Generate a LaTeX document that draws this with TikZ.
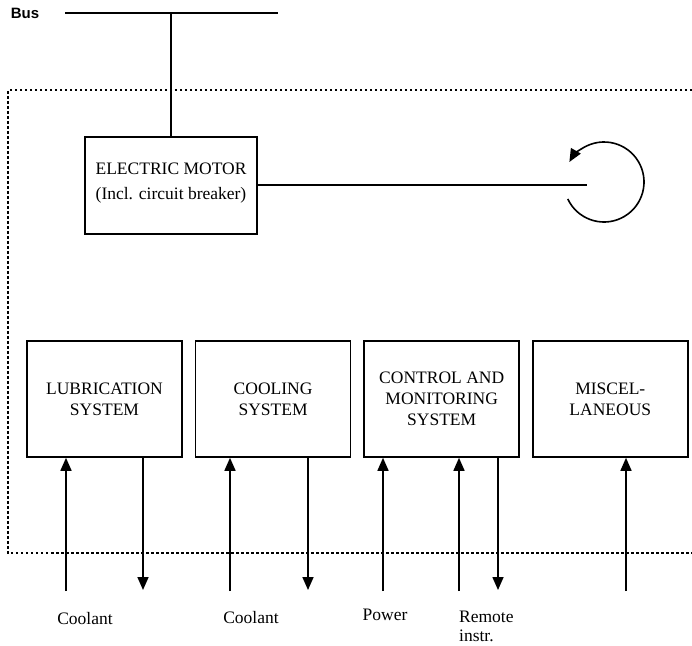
\documentclass[tikz,border=0pt]{standalone}
\usepackage{fontspec}
\setmainfont{Liberation Serif}
\usepackage{tikz}
\usetikzlibrary{arrows.meta,positioning,calc}

\begin{document}
\begin{tikzpicture}[
  x=1pt, y=-1pt,
  >={Triangle[length=13pt,width=11pt]},
  line width=1.6pt,
  lbl/.style={font=\fontsize{17.5}{21}\selectfont},
  unit/.style={draw, lbl, align=center, minimum width=155pt, minimum height=116pt, inner sep=0pt},
  busname/.style={font=\fontsize{15}{18}\selectfont\fontspec{Liberation Sans}\bfseries},
  frame/.style={line width=1.3pt, dash pattern=on 2.5pt off 2.5pt},
  every node/.style={lbl}
]
\useasboundingbox (0,0) rectangle (692,645);

% Bus
\node[busname] (bus) at (25,13) {Bus};
\coordinate (busl) at (65,13);
\coordinate (busr) at (278,13);
\draw (busl) -- (busr);

% Dotted boundary
\draw[frame] (692,90) -- (8,90) -- (8,553) -- (692,553);

% Motor node
\node[draw, align=center, minimum width=172pt, minimum height=97pt] (motor) at (171,185.5)
  {ELECTRIC MOTOR\\[4pt](Incl. circuit breaker)\\[-12pt]};
\draw (motor.north) -- (motor.north |- busl);

% Shaft and rotation
\coordinate (shaft) at (587,185);
\coordinate (rot) at (604,182);
\draw (motor.east |- shaft) -- (shaft);
\draw[->] ($(rot)+(155:40)$) arc[start angle=155, end angle=-150, radius=40];

% Auxiliary units
\node[unit] (lub) at (104.5,399) {LUBRICATION\\SYSTEM};
\node[unit, right=12pt of lub] (cool) {COOLING\\SYSTEM};
\node[unit, right=12pt of cool] (ctrl) {CONTROL AND\\MONITORING\\SYSTEM};
\node[unit, right=12pt of ctrl] (misc) {MISCEL-\\LANEOUS};

% Connection ends
\coordinate (lubin) at (66,591);
\coordinate (lubout) at (143,590);
\coordinate (coolin) at (230,591);
\coordinate (coolout) at (308,590);
\coordinate (pwrin) at (383,591);
\coordinate (remin) at (459,591);
\coordinate (ctrlout) at (498,590);
\coordinate (miscin) at (626,591);

% Inputs
\foreach \p/\u in {lubin/lub, coolin/cool, pwrin/ctrl, remin/ctrl, miscin/misc}
  \draw[->] (\p) -- (\p |- \u.south);

% Outputs
\foreach \p/\u in {lubout/lub, coolout/cool, ctrlout/ctrl}
  \draw[->] (\p |- \u.south) -- (\p);

% Labels
\node[anchor=base] (cool1) at (85,624) {Coolant};
\node[anchor=base] (cool2) at (251,623) {Coolant};
\node[anchor=base] (power) at (385,620) {Power};
\node[anchor=base west, align=left, font=\fontsize{17.5}{19}\selectfont] (remote) at (455,641) {Remote\\instr.};

\end{tikzpicture}
\end{document}
